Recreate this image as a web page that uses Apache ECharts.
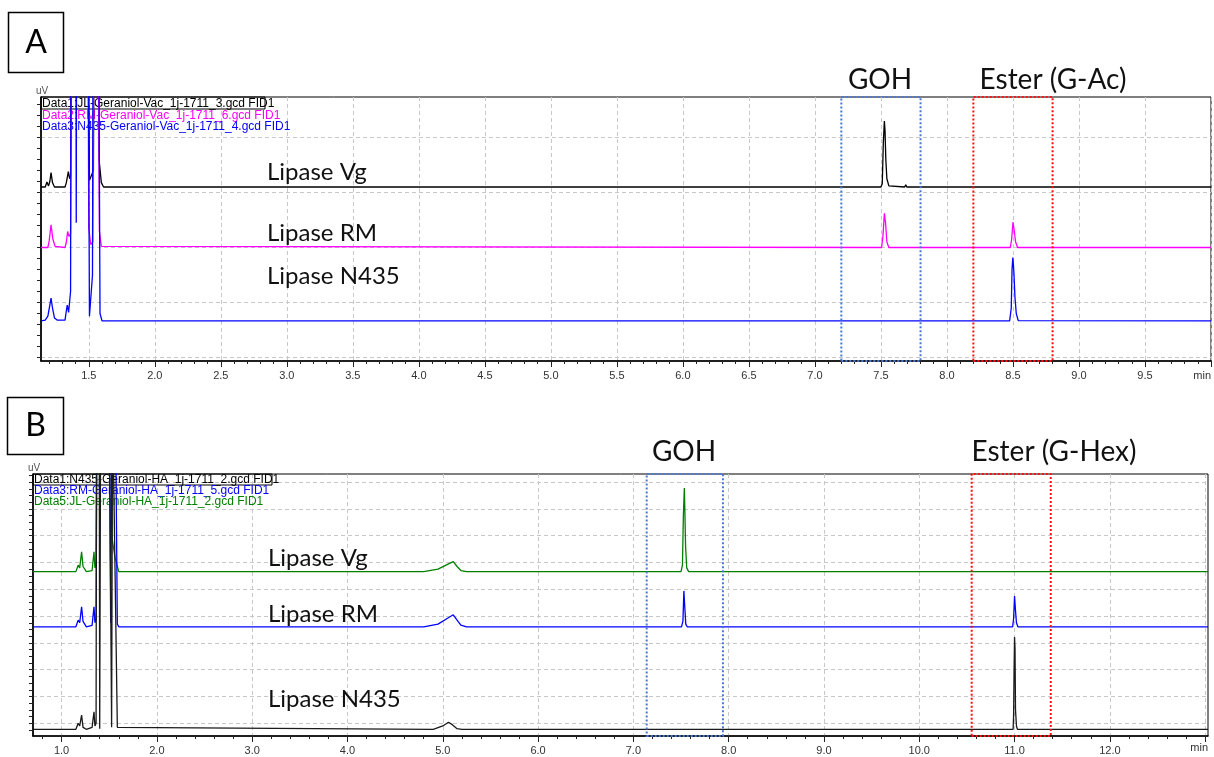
<!DOCTYPE html>
<html><head><meta charset="utf-8">
<script src="https://cdn.jsdelivr.net/npm/echarts@6/dist/echarts.min.js"></script>
<style>html,body{margin:0;padding:0;background:#fff}#c{width:1214px;height:757px}</style>
</head><body><div id="c"></div>
<script>
// ---------------- DATA ----------------
// Panel A tick labels (min)
const aTickLabels = [1.5,2.0,2.5,3.0,3.5,4.0,4.5,5.0,5.5,6.0,6.5,7.0,7.5,8.0,8.5,9.0,9.5];
// Panel B tick labels (min)
const bTickLabels = [1.0,2.0,3.0,4.0,5.0,6.0,7.0,8.0,9.0,10.0,11.0,12.0];

const aLegend = ['Data1:JL-Geraniol-Vac_1j-1711_3.gcd FID1','Data2:RM-Geraniol-Vac_1j-1711_6.gcd FID1','Data3:N435-Geraniol-Vac_1j-1711_4.gcd FID1'];
const bLegend = ['Data1:N435-Geraniol-HA_1j-1711_2.gcd FID1','Data3:RM-Geraniol-HA_1j-1711_5.gcd FID1','Data5:JL-Geraniol-HA_1j-1711_2.gcd FID1'];
const sampleNames = ['Lipase Vg','Lipase RM','Lipase N435'];

// Panel A traces [time(min), signal] (stacked chromatograms, arbitrary units)
const aVg = [[1.138,3.10],[1.17,3.10],[1.183,3.19],[1.195,3.12],[1.205,3.20],[1.214,3.36],[1.225,3.18],[1.24,3.10],[1.32,3.10],[1.33,3.18],[1.345,3.38],[1.355,3.25],[1.362,3.30],[1.368,6.0],[1.38,9],[1.49,9],[1.497,6.0],[1.505,3.22],[1.52,3.24],[1.535,3.4],[1.545,9],[1.565,9],[1.578,3.6],[1.595,3.18],[1.612,3.10],
  [7.50,3.10],[7.51,3.16],[7.518,3.9],[7.526,4.30],[7.531,4.12],[7.537,3.6],[7.545,3.25],[7.56,3.12],[7.575,3.10],[7.68,3.10],[7.688,3.14],[7.696,3.10],[10.0,3.10]];
const aRM = [[1.138,2.0],[1.19,2.0],[1.20,2.12],[1.214,2.41],[1.228,2.15],[1.245,2.02],[1.32,2.0],[1.33,2.1],[1.34,2.29],[1.35,2.2],[1.362,2.25],[1.375,9],[1.488,9],[1.50,2.35],[1.515,2.05],[1.53,2.1],[1.545,9],[1.565,9],[1.58,2.3],[1.595,2.02],[1.61,2.0],
  [7.505,2.0],[7.515,2.2],[7.526,2.62],[7.535,2.45],[7.545,2.1],[7.56,2.0],
  [8.48,2.0],[8.49,2.15],[8.50,2.46],[8.51,2.3],[8.52,2.1],[8.535,2.0],[10.0,2.0]];
const aN435 = [[1.138,0.667],[1.17,0.68],[1.19,0.75],[1.205,0.95],[1.214,1.08],[1.225,0.9],[1.24,0.72],[1.26,0.68],[1.32,0.68],[1.33,0.85],[1.337,0.95],[1.347,0.82],[1.355,0.8],[1.362,1.2],[1.368,9],[1.40,9],[1.405,2.45],[1.41,9],[1.49,9],[1.505,0.75],[1.515,0.72],[1.528,1.5],[1.535,9],[1.57,9],[1.585,0.8],[1.60,0.667],
  [8.475,0.667],[8.487,0.9],[8.493,1.6],[8.499,1.815],[8.503,1.7],[8.508,1.5],[8.515,1.1],[8.525,0.8],[8.54,0.67],[10.0,0.667]];

// Panel B traces
const bVg = [[0.70,5.66],[1.15,5.66],[1.174,5.90],[1.19,5.80],[1.21,6.40],[1.225,5.85],[1.26,5.66],[1.32,5.70],[1.34,6.40],[1.35,5.80],[1.362,5.9],[1.37,12],[1.52,12],[1.53,6.9],[1.56,6.2],[1.6,5.66],[1.72,5.66],[1.73,5.72],[1.74,5.66],[1.93,5.66],[1.94,5.72],[1.95,5.66],
  [4.80,5.66],[4.95,5.75],[5.05,5.93],[5.11,6.03],[5.15,5.85],[5.19,5.70],[5.25,5.66],
  [7.33,5.66],[7.34,5.73],[7.35,5.66],[7.50,5.66],[7.515,5.9],[7.525,7.8],[7.535,8.78],[7.54,8.0],[7.548,6.6],[7.56,5.8],[7.58,5.66],[7.70,5.66],[7.706,5.72],[7.712,5.66],[7.87,5.66],[7.88,5.72],[7.89,5.66],[13.03,5.66]];
const bRM = [[0.70,3.60],[1.15,3.60],[1.174,3.85],[1.19,3.75],[1.21,4.35],[1.225,3.8],[1.26,3.60],[1.32,3.65],[1.34,4.35],[1.35,3.75],[1.362,3.9],[1.372,12],[1.50,12],[1.515,3.75],[1.53,12],[1.565,12],[1.585,3.7],[1.60,3.60],
  [4.80,3.60],[4.95,3.70],[5.05,3.92],[5.11,4.05],[5.15,3.85],[5.19,3.66],[5.25,3.60],
  [7.38,3.60],[7.40,3.55],[7.42,3.60],[7.505,3.60],[7.52,3.8],[7.53,4.94],[7.54,4.3],[7.55,3.7],[7.565,3.60],
  [8.18,3.60],[8.19,3.55],[8.21,3.60],[8.30,3.60],[8.31,3.56],[8.32,3.60],[9.07,3.60],[9.08,3.65],[9.09,3.60],[10.9,3.6],[10.91,3.65],[10.92,3.6],
  [10.98,3.60],[10.99,3.9],[11.0,4.75],[11.01,4.2],[11.02,3.75],[11.035,3.60],[11.27,3.6],[11.28,3.55],[11.3,3.6],[11.63,3.6],[11.64,3.65],[11.65,3.6],[13.03,3.60]];
const bN435 = [[0.70,-0.224],[1.15,-0.224],[1.174,0.0],[1.19,-0.1],[1.21,0.31],[1.225,-0.15],[1.26,-0.224],[1.32,-0.15],[1.34,0.43],[1.35,-0.1],[1.362,0.0],[1.367,12],[1.395,12],[1.40,-0.2],[1.41,12],[1.50,12],[1.525,-0.15],[1.535,12],[1.555,12],[1.585,-0.15],[1.60,-0.224],
  [4.90,-0.224],[5.0,-0.1],[5.06,0.04],[5.10,-0.05],[5.15,-0.2],[5.2,-0.224],
  [10.985,-0.224],[10.99,0.3],[10.995,2.0],[11.0,3.22],[11.005,2.8],[11.01,0.5],[11.02,-0.1],[11.03,-0.224],[13.03,-0.224]];

// Highlight windows (min)
const aGOH = [7.2, 7.8], aEster = [8.2, 8.8];
const bGOH = [7.14, 7.94], bEster = [10.55, 11.38];

// ---------------- CHART ----------------
function steps(a, b, s){ const r=[]; for(let k=Math.round(a/s); k*s<=b+1e-9; k++) r.push(+(k*s).toFixed(4)); return r; }
const FONT = 'Lato';
const AXF = "'Liberation Sans', Arial, sans-serif";

function xAxes(grid, min, max, majors, labels, minorStep, minorFrom){
  return [
    {gridIndex:grid, type:'value', position:'bottom', min, max,
     axisLine:{show:true,onZero:false,lineStyle:{color:'#000',width:1.6}},
     axisTick:{show:true,customValues:majors,length:6,lineStyle:{color:'#222',width:1}},
     axisLabel:{show:true,customValues:labels,formatter:v=>v.toFixed(1),fontSize:11,color:'#333',margin:9,fontFamily:AXF},
     splitLine:{show:true,lineStyle:{color:'#c8c8c8',type:[4,3],width:1}}},
    {gridIndex:grid, type:'value', position:'bottom', min, max,
     axisLine:{show:false,onZero:false},
     axisTick:{show:true,customValues:steps(minorFrom,max,minorStep),length:3,lineStyle:{color:'#222',width:1}},
     axisLabel:{show:false}, splitLine:{show:false}}
  ];
}
function yAxes(grid, min, max, majors, minors){
  return [
    {gridIndex:grid, type:'value', position:'left', min, max,
     axisLine:{show:true,onZero:false,lineStyle:{color:'#000',width:1.6}},
     axisTick:{show:true,customValues:majors,length:4,lineStyle:{color:'#222'}},
     axisLabel:{show:false},
     splitLine:{show:true,lineStyle:{color:'#c8c8c8',type:[4,3],width:1}}},
    {gridIndex:grid, type:'value', position:'left', min, max,
     axisLine:{show:false,onZero:false},
     axisTick:{show:true,customValues:minors,length:4,lineStyle:{color:'#222'}},
     axisLabel:{show:false}, splitLine:{show:false}}
  ];
}
function trace(name, data, color, xi, yi, extra){
  return Object.assign({name, type:'line', xAxisIndex:xi, yAxisIndex:yi, data, showSymbol:false, symbol:'none',
    clip:true, animation:false, lineStyle:{color, width:1.3}, itemStyle:{color}, z:3}, extra||{});
}
function boxes(g, e){
  return {silent:true, z:4, data:[
    [{xAxis:g[0], itemStyle:{color:'rgba(0,0,0,0)',borderColor:'#4a78d0',borderWidth:2,borderType:[2,2]}},{xAxis:g[1]}],
    [{xAxis:e[0], itemStyle:{color:'rgba(0,0,0,0)',borderColor:'#ff1010',borderWidth:2,borderType:[2,2]}},{xAxis:e[1]}]
  ], itemStyle:{color:'rgba(0,0,0,0)'}};
}
function txt(x, y, text, size, color, align, family, z){
  return {type:'text', x, y, z:z||10, style:{text, font:`${size}px ${family||FONT}`, fill:color, align:align||'left', verticalAlign:'middle'}};
}

const graphics = [
  {type:'rect', shape:{x:8.5,y:12.5,width:55,height:60}, style:{fill:'none',stroke:'#000',lineWidth:1.5}},
  txt(36,43,'A',32,'#000','center'),
  {type:'rect', shape:{x:7.5,y:397.5,width:56,height:57}, style:{fill:'none',stroke:'#000',lineWidth:1.5}},
  txt(35.5,426,'B',32,'#000','center'),
  txt(36,91,'uV',10,'#555','left',AXF),
  txt(28,468,'uV',10,'#555','left',AXF),
  {type:'rect', z:1, shape:{x:41,y:97,width:224,height:12}, style:{fill:'none',stroke:'#000',lineWidth:1}},
  txt(42,103.5,aLegend[0],12,'#000','left',AXF,1),
  txt(42,115.5,aLegend[1],12,'#ff00ff','left',AXF,1),
  txt(42,127,aLegend[2],12,'#0000ff','left',AXF,1),
  {type:'rect', z:1, shape:{x:33,y:474,width:239,height:11}, style:{fill:'none',stroke:'#000',lineWidth:1}},
  txt(34,480,bLegend[0],12,'#000','left',AXF,1),
  txt(34,491,bLegend[1],12,'#0000ff','left',AXF,1),
  txt(34,502,bLegend[2],12,'#008000','left',AXF,1),
  txt(267,172,sampleNames[0],24,'#111'),
  txt(267,233,sampleNames[1],24,'#111'),
  txt(267,276,sampleNames[2],24,'#111'),
  txt(268,558,sampleNames[0],24,'#111'),
  txt(268,614,sampleNames[1],24,'#111'),
  txt(268,699,sampleNames[2],24,'#111'),
  txt(880,80,'GOH',28,'#111','center'),
  txt(1053,80,'Ester (G-Ac)',28,'#111','center'),
  txt(684,452,'GOH',28,'#111','center'),
  txt(1054,452,'Ester (G-Hex)',28,'#111','center'),
  txt(1211,376,'min',11,'#333','right',AXF),
  txt(1208,748,'min',11,'#333','right',AXF)
];

const option = {
  backgroundColor:'#fff',
  animation:false,
  grid:[
    {left:41, top:97, width:1170, height:264, show:true, borderColor:'#000', borderWidth:1, outerBoundsMode:'none', containLabel:false},
    {left:33, top:474, width:1175, height:262, show:true, borderColor:'#000', borderWidth:1, outerBoundsMode:'none', containLabel:false}
  ],
  xAxis:[
    ...xAxes(0, 1.138, 10.0, aTickLabels.concat([10.0]), aTickLabels, 0.1, 1.2),
    ...xAxes(1, 0.70, 13.03, bTickLabels.concat([13.0]), bTickLabels, 0.2, 0.8)
  ],
  yAxis:[
    ...yAxes(0, -0.064, 4.736, [0,1,2,3,4], steps(0,4.7,0.2)),
    ...yAxes(1, -0.474, 9.302, [0,1,2,3,4,5,6,7,8,9], steps(-0.25,9.3,0.25))
  ],
  series:[
    trace(aLegend[0], aVg, '#000000', 0, 0, {markArea: boxes(aGOH, aEster)}),
    trace(aLegend[1], aRM, '#ff00ff', 0, 0),
    trace(aLegend[2], aN435, '#0000ff', 0, 0),
    trace(bLegend[2], bVg, '#008000', 2, 2, {markArea: boxes(bGOH, bEster)}),
    trace(bLegend[1], bRM, '#0000ff', 2, 2),
    trace(bLegend[0], bN435, '#1a1a1a', 2, 2)
  ],
  graphic: graphics
};
const chart = echarts.init(document.getElementById('c'), null, {renderer:'canvas'});
chart.setOption(option);
</script></body></html>
